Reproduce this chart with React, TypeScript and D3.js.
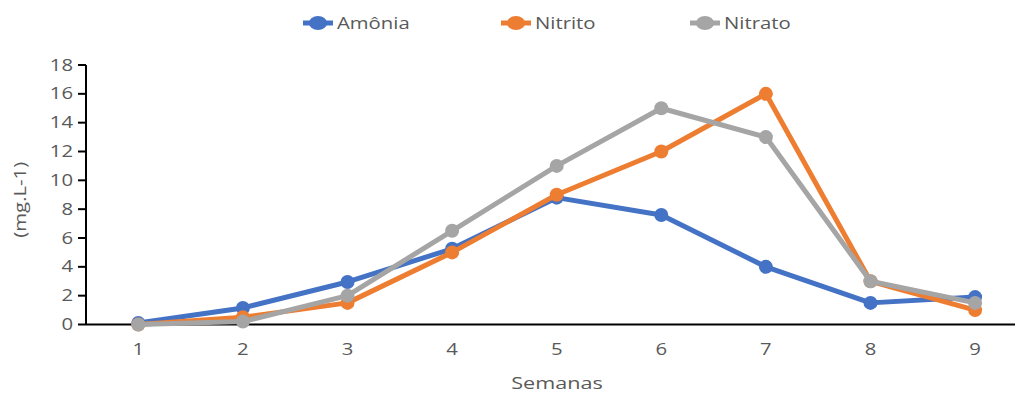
import React from "react";
import * as d3 from "d3";

const weeks = ["1", "2", "3", "4", "5", "6", "7", "8", "9"];
const amonia = [0.1, 1.15, 2.95, 5.25, 8.8, 7.6, 4.0, 1.5, 1.9];
const nitrito = [0, 0.5, 1.5, 5.0, 9.0, 12.0, 16.0, 3.0, 1.0];
const nitrato = [0, 0.2, 2.0, 6.5, 11.0, 15.0, 13.0, 3.0, 1.5];
const yTicks = [0, 2, 4, 6, 8, 10, 12, 14, 16, 18];

const seriesList = [
  { name: "Amônia", values: amonia, color: "#4472C4", legendX: 303 },
  { name: "Nitrito", values: nitrito, color: "#ED7D31", legendX: 501 },
  { name: "Nitrato", values: nitrato, color: "#A5A5A5", legendX: 690 },
];

const W = 1015;
const H = 394;
const left = 86;
const top = 65;
const bottom = 324.5;
const right = left + 104.6 * weeks.length;
const font = "'Open Sans', 'DejaVu Sans', sans-serif";
const textColor = "#595959";
const stretch = 1.27;

// Text drawn with a wide aspect, anchored at (x, y), optionally rotated.
function WideText(props: {
  x: number;
  y: number;
  size: number;
  anchor?: "start" | "middle" | "end";
  rotate?: number;
  children: React.ReactNode;
}) {
  const { x, y, size, anchor = "start", rotate = 0, children } = props;
  return (
    <g transform={`translate(${x},${y}) rotate(${rotate}) scale(${stretch},1)`}>
      <text x={0} y={0} dy="0.35em" textAnchor={anchor} fontSize={size} fill={textColor}>
        {children}
      </text>
    </g>
  );
}

export default function App() {
  const x = d3.scaleBand<string>().domain(weeks).range([left, right]);
  const y = d3.scaleLinear().domain([0, 18]).range([bottom, top]);
  const cx = (w: string) => (x(w) ?? 0) + x.bandwidth() / 2;

  const line = d3
    .line<number>()
    .x((_, i) => cx(weeks[i]))
    .y((d) => y(d));

  return (
    <svg
      width={W}
      height={H}
      style={{ position: "absolute", left: 0, top: 0, background: "#fff" }}
      fontFamily={font}
    >
      {/* legend */}
      {seriesList.map((s) => (
        <g key={s.name}>
          <line
            x1={s.legendX}
            x2={s.legendX + 30}
            y1={23}
            y2={23}
            stroke={s.color}
            strokeWidth={5}
          />
          <ellipse cx={s.legendX + 15} cy={23} rx={9} ry={7} fill={s.color} />
          <WideText x={s.legendX + 34} y={23} size={16}>
            {s.name}
          </WideText>
        </g>
      ))}

      {/* y axis */}
      <line x1={left} x2={left} y1={top} y2={bottom} stroke="#000" strokeWidth={2} />
      {yTicks.map((t) => (
        <g key={t}>
          <line x1={left - 8} x2={left} y1={y(t)} y2={y(t)} stroke="#000" strokeWidth={2} />
          <WideText x={left - 13} y={y(t)} size={16} anchor="end">
            {t}
          </WideText>
        </g>
      ))}
      <WideText x={20} y={(top + bottom) / 2 + 5} size={16} anchor="middle" rotate={-90}>
        (mg.L-1)
      </WideText>

      {/* x axis */}
      <line x1={left} x2={right} y1={bottom} y2={bottom} stroke="#000" strokeWidth={2} />
      {weeks.map((w) => (
        <WideText key={w} x={cx(w)} y={349} size={16} anchor="middle">
          {w}
        </WideText>
      ))}
      <WideText x={557} y={383} size={17} anchor="middle">
        Semanas
      </WideText>

      {/* series */}
      {seriesList.map((s) => (
        <g key={s.name}>
          <path
            d={line(s.values) ?? ""}
            fill="none"
            stroke={s.color}
            strokeWidth={5}
            strokeLinejoin="round"
          />
          {s.values.map((v, i) => (
            <circle key={i} cx={cx(weeks[i])} cy={y(v)} r={7} fill={s.color} />
          ))}
        </g>
      ))}
    </svg>
  );
}
